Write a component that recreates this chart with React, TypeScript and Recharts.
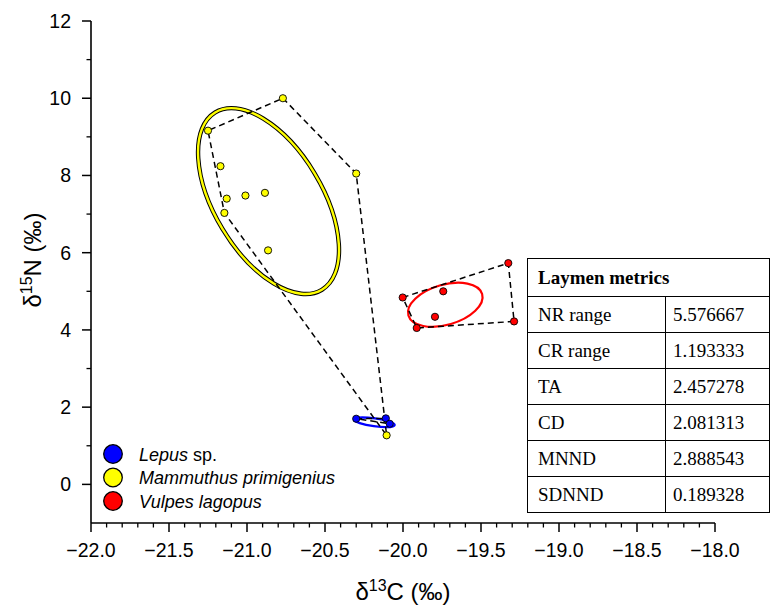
import React from 'react';
import * as R from 'recharts';

const { ScatterChart, Scatter, XAxis, YAxis, Customized } = R as any;

// ---------- axes ----------
const X_DOMAIN = [-22, -18];
const Y_DOMAIN = [-1, 12];
const xMajorTicks = [-22.0, -21.5, -21.0, -20.5, -20.0, -19.5, -19.0, -18.5, -18.0];
const yMajorTicks = [0, 2, 4, 6, 8, 10, 12];
const yMinorTicks = [1, 3, 5, 7, 9, 11];
const xMinorPerMajor = 4;

// ---------- series ----------
const speciesNames = ['Lepus sp.', 'Mammuthus primigenius', 'Vulpes lagopus'];
const speciesColors = ['#0000ff', '#ffff00', '#ff0000'];

const lepusX = [-20.3, -20.11, -20.085];
const lepusY = [1.7, 1.71, 1.57];
const lepusHull = [0, 1, 2, 0];

const mammuthusX = [-20.77, -21.25, -20.3, -21.17, -21.13, -21.01, -20.885, -21.145, -20.865, -20.105];
const mammuthusY = [10.0, 9.16, 8.05, 8.24, 7.4, 7.48, 7.55, 7.03, 6.06, 1.27];
const mammuthusHull = [0, 2, 9, 7, 1, 0];

const vulpesX = [-19.325, -20.002, -19.742, -19.795, -19.912, -19.288];
const vulpesY = [5.73, 4.84, 5.0, 4.34, 4.05, 4.22];
const vulpesHull = [1, 0, 5, 4, 1];

// standard ellipses: centre + two conjugate semi-diameters (data units)
const lepusEllipse = { cx: -20.183, cy: 1.608, ux: 0.13, uy: -0.07, vx: -0.004, vy: -0.1 };
const mammuthusEllipse = { cx: -20.862, cy: 7.336, ux: 0.342, uy: -2.296, vx: -0.2953, vy: -0.721 };
const vulpesEllipse = { cx: -19.729, cy: 4.651, ux: 0.2363, uy: 0.2778, vx: 0.0358, vy: -0.498 };

// ---------- table ----------
const metricNames = ['NR range', 'CR range', 'TA', 'CD', 'MNND', 'SDNND'];
const metricValues = ['5.576667', '1.193333', '2.457278', '2.081313', '2.888543', '0.189328'];

// ---------- helpers ----------
const pts = (xs: number[], ys: number[]) => xs.map((x, i) => ({ x, y: ys[i] }));
const hull = (xs: number[], ys: number[], idx: number[]) => idx.map((i) => ({ x: xs[i], y: ys[i] }));

const xMinorTicks: number[] = [];
for (let i = 0; i < xMajorTicks.length - 1; i++) {
  const a = xMajorTicks[i];
  const b = xMajorTicks[i + 1];
  for (let k = 1; k <= xMinorPerMajor; k++) {
    xMinorTicks.push(Math.round((a + ((b - a) * k) / (xMinorPerMajor + 1)) * 1000) / 1000);
  }
}
const xTicks = [...xMajorTicks, ...xMinorTicks].sort((a, b) => a - b);
const yTicks = [...yMajorTicks, ...yMinorTicks].sort((a, b) => a - b);

const SANS = '"Liberation Sans", Arial, sans-serif';
const SERIF = '"Liberation Serif", "Times New Roman", serif';
const TICK_FONT = 19.5;

const fmtX = (v: number) => v.toFixed(1).replace('-', '\u2212');

const XTick = (props: any) => {
  const { x, y, payload } = props;
  const v = payload.value;
  const major = xMajorTicks.some((m) => Math.abs(m - v) < 1e-6);
  if (!major) return <line x1={x} y1={y} x2={x} y2={y + 4.5} stroke="#000" strokeWidth={1.3} />;
  return (
    <g>
      <line x1={x} y1={y} x2={x} y2={y + 9} stroke="#000" strokeWidth={1.5} />
      <text x={x} y={y + 33.5} textAnchor="middle" fontFamily={SANS} fontSize={TICK_FONT} fill="#000">
        {fmtX(v)}
      </text>
    </g>
  );
};

const YTick = (props: any) => {
  const { x, y, payload } = props;
  const v = payload.value;
  const major = yMajorTicks.includes(v);
  if (!major) return <line x1={x} y1={y} x2={x - 4.5} y2={y} stroke="#000" strokeWidth={1.3} />;
  return (
    <g>
      <line x1={x} y1={y} x2={x - 9} y2={y} stroke="#000" strokeWidth={1.5} />
      <text x={x - 20} y={y + 7} textAnchor="end" fontFamily={SANS} fontSize={TICK_FONT} fill="#000">
        {String(v)}
      </text>
    </g>
  );
};

const FALLBACK_AREA = { x: 91, y: 21, width: 624, height: 502 };
function usePlot() {
  const anyR: any = R;
  if (typeof anyR.usePlotArea === 'function') {
    const a = anyR.usePlotArea();
    if (a && a.width) return a;
  }
  return FALLBACK_AREA;
}

const EllipseLayer = () => {
  const area = usePlot();
  const sx = area.width / (X_DOMAIN[1] - X_DOMAIN[0]);
  const sy = area.height / (Y_DOMAIN[1] - Y_DOMAIN[0]);
  const px = (v: number) => area.x + (v - X_DOMAIN[0]) * sx;
  const py = (v: number) => area.y + (Y_DOMAIN[1] - v) * sy;
  const mat = (e: any) =>
    `matrix(${e.ux * sx} ${-e.uy * sy} ${e.vx * sx} ${-e.vy * sy} ${px(e.cx)} ${py(e.cy)})`;
  return (
    <g>
      <circle cx={0} cy={0} r={1} transform={mat(mammuthusEllipse)} fill="none" stroke="#000" strokeWidth={4.4} vectorEffect="non-scaling-stroke" />
      <circle cx={0} cy={0} r={1} transform={mat(mammuthusEllipse)} fill="none" stroke="#ffff00" strokeWidth={2.4} vectorEffect="non-scaling-stroke" />
      <circle cx={0} cy={0} r={1} transform={mat(vulpesEllipse)} fill="none" stroke="#ff0000" strokeWidth={2.2} vectorEffect="non-scaling-stroke" />
      <circle cx={0} cy={0} r={1} transform={mat(lepusEllipse)} fill="none" stroke="#0000ff" strokeWidth={2.2} vectorEffect="non-scaling-stroke" />
    </g>
  );
};

const LabelLayer = () => {
  const area = usePlot();
  const cx = area.x + area.width / 2;
  const cy = 260;
  return (
    <g fontFamily={SANS} fill="#000">
      <text x={cx} y={600} textAnchor="middle" fontSize={24}>
        {'\u03b4'}
        <tspan dy={-9} fontSize={16}>13</tspan>
        <tspan dy={9}>C (‰)</tspan>
      </text>
      <text x={0} y={0} textAnchor="middle" fontSize={24} transform={`translate(41 ${cy}) rotate(-90)`}>
        {'\u03b4'}
        <tspan dy={-9} fontSize={16}>15</tspan>
        <tspan dy={9}>N (‰)</tspan>
      </text>
      {speciesNames.map((name, i) => {
        const y = 454 + i * 23.5;
        const parts = name.split(' ');
        const isSp = parts[1] === 'sp.';
        return (
          <g key={name}>
            <circle cx={113} cy={y} r={9.3} fill={speciesColors[i]} stroke="#000" strokeWidth={1.3} />
            <text x={139} y={y + 6.5} fontSize={18}>
              {isSp ? (
                <>
                  <tspan fontStyle="italic">{parts[0]}</tspan>
                  <tspan> sp.</tspan>
                </>
              ) : (
                <tspan fontStyle="italic">{name}</tspan>
              )}
            </text>
          </g>
        );
      })}
    </g>
  );
};

const NoDot = () => <g />;
const makeDot = (color: string) => (p: any) =>
  <circle cx={p.cx} cy={p.cy} r={3.6} fill={color} stroke="#000" strokeWidth={0.9} />;

const hullLine = { stroke: '#000', strokeWidth: 1.5, strokeDasharray: '6 4' };

const tdBase: React.CSSProperties = {
  border: '1.3px solid #000',
  padding: '0 0 0 9px',
  fontFamily: SERIF,
  fontSize: 19,
  color: '#000',
  height: 36,
  boxSizing: 'border-box',
  verticalAlign: 'middle',
  whiteSpace: 'nowrap',
};

export default function App() {
  return (
    <div style={{ position: 'absolute', left: 0, top: 0, width: 770, height: 606, background: '#fff' }}>
      <ScatterChart width={770} height={606} margin={{ top: 21, right: 55, bottom: 0, left: 0 }}>
        <XAxis
          type="number"
          dataKey="x"
          domain={X_DOMAIN}
          ticks={xTicks}
          interval={0}
          height={83}
          tickSize={0}
          tickMargin={0}
          tickLine={false}
          tick={XTick}
          axisLine={{ stroke: '#000', strokeWidth: 1.6 }}
          allowDataOverflow
        />
        <YAxis
          type="number"
          dataKey="y"
          domain={Y_DOMAIN}
          ticks={yTicks}
          interval={0}
          width={91}
          tickSize={0}
          tickMargin={0}
          tickLine={false}
          tick={YTick}
          axisLine={{ stroke: '#000', strokeWidth: 1.6 }}
          allowDataOverflow
        />
        <Scatter name="lepus-hull" data={hull(lepusX, lepusY, lepusHull)} line={hullLine} shape={NoDot} legendType="none" isAnimationActive={false} />
        <Scatter name="mammuthus-hull" data={hull(mammuthusX, mammuthusY, mammuthusHull)} line={hullLine} shape={NoDot} legendType="none" isAnimationActive={false} />
        <Scatter name="vulpes-hull" data={hull(vulpesX, vulpesY, vulpesHull)} line={hullLine} shape={NoDot} legendType="none" isAnimationActive={false} />
        <Customized component={EllipseLayer} />
        <Scatter name={speciesNames[0]} data={pts(lepusX, lepusY)} shape={makeDot(speciesColors[0])} isAnimationActive={false} />
        <Scatter name={speciesNames[1]} data={pts(mammuthusX, mammuthusY)} shape={makeDot(speciesColors[1])} isAnimationActive={false} />
        <Scatter name={speciesNames[2]} data={pts(vulpesX, vulpesY)} shape={makeDot(speciesColors[2])} isAnimationActive={false} />
        <Customized component={LabelLayer} />
      </ScatterChart>
      <table
        style={{
          position: 'absolute',
          left: 527,
          top: 258,
          width: 242,
          borderCollapse: 'collapse',
          background: '#fff',
          tableLayout: 'fixed',
        }}
      >
        <colgroup>
          <col style={{ width: 138 }} />
          <col style={{ width: 104 }} />
        </colgroup>
        <tbody>
          <tr>
            <td colSpan={2} style={{ ...tdBase, height: 38, fontWeight: 'bold', paddingLeft: 10 }}>
              Laymen metrics
            </td>
          </tr>
          {metricNames.map((m, i) => (
            <tr key={m}>
              <td style={{ ...tdBase, paddingLeft: 10 }}>{m}</td>
              <td style={{ ...tdBase, paddingLeft: 7 }}>{metricValues[i]}</td>
            </tr>
          ))}
        </tbody>
      </table>
    </div>
  );
}
